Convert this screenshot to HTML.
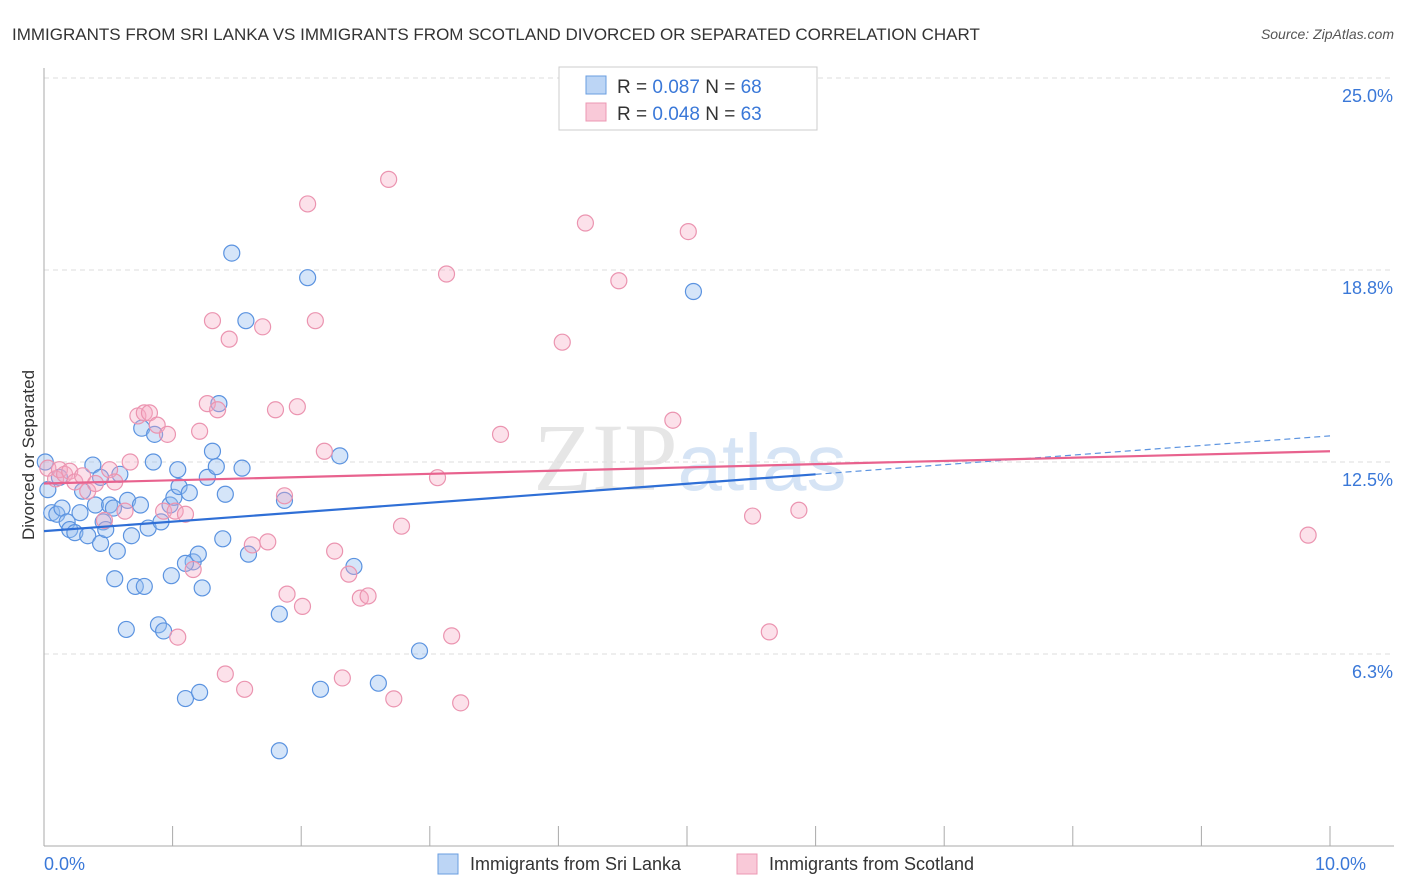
<!DOCTYPE html>
<html><head><meta charset="utf-8"><style>
body{margin:0;background:#fff;font-family:"Liberation Sans",sans-serif}
svg{display:block}
</style></head><body>
<svg id="chart" width="1406" height="892" font-family="Liberation Sans, sans-serif">
<text x="12" y="40" font-size="17" fill="#333">IMMIGRANTS FROM SRI LANKA VS IMMIGRANTS FROM SCOTLAND DIVORCED OR SEPARATED CORRELATION CHART</text>
<text x="1394" y="39" font-size="14" fill="#555" font-style="italic" text-anchor="end">Source: ZipAtlas.com</text>
<text x="690" y="490" font-size="96" fill="#e6e6e6" font-family="Liberation Serif, serif" text-anchor="middle">ZIP<tspan fill="#d6e4f5" font-family="Liberation Sans, sans-serif" font-size="80">atlas</tspan></text>
<g id="grid"></g>
<g id="axes"></g>
<g id="pts"></g>
<g id="lines"></g>
<text x="34" y="455" font-size="17" fill="#333" text-anchor="middle" transform="rotate(-90 34 455)">Divorced or Separated</text>
<g>
<rect x="559" y="67" width="258" height="63" fill="#fff" stroke="#ccc"/>
<rect x="586" y="76" width="20" height="18" fill="#bcd5f5" stroke="#6a9ee0"/>
<rect x="586" y="103" width="20" height="18" fill="#f9c9d8" stroke="#ec98b3"/>
<text x="617" y="93" font-size="19" fill="#333">R = <tspan fill="#3a78d8">0.087</tspan>   N = <tspan fill="#3a78d8">68</tspan></text>
<text x="617" y="120" font-size="19" fill="#333">R = <tspan fill="#3a78d8">0.048</tspan>   N = <tspan fill="#3a78d8">63</tspan></text>
</g>
<g>
<rect x="438" y="854" width="20" height="20" fill="#bcd5f5" stroke="#6a9ee0"/>
<text x="470" y="870" font-size="18" fill="#333">Immigrants from Sri Lanka</text>
<rect x="737" y="854" width="20" height="20" fill="#f9c9d8" stroke="#ec98b3"/>
<text x="769" y="870" font-size="18" fill="#333">Immigrants from Scotland</text>
</g>
</svg>
<script>
const yTicks=[6.25,12.5,18.75,25];
const yTickLabels=["6.3%","12.5%","18.8%","25.0%"];
const xTickLabels=["0.0%","10.0%"];
const blueX=[0.03,0.06,0.1,0.14,0.18,0.2,0.24,0.28,0.3,0.34,0.38,0.4,0.44,0.46,0.48,0.51,0.54,0.57,0.59,0.55,0.64,0.65,0.68,0.71,0.75,0.78,0.76,0.81,0.85,0.86,0.89,0.91,0.93,0.98,0.99,1.01,1.04,1.05,1.1,1.13,1.16,1.2,1.21,1.23,1.27,1.31,1.34,1.36,1.39,1.41,1.46,1.54,1.57,1.59,1.83,1.83,1.87,2.05,2.15,2.3,2.41,2.6,2.92,5.05,0.01,0.12,1.1,0.44];
const blueY=[11.6,10.85,10.8,11.0,10.55,10.3,10.2,10.85,11.55,10.1,12.4,11.1,9.85,10.55,10.3,11.1,11.0,9.6,12.1,8.7,7.05,11.25,10.1,8.45,11.1,8.45,13.6,10.35,12.5,13.4,7.2,10.55,7.0,11.1,8.8,11.35,12.25,11.7,4.8,11.5,9.25,9.5,5.0,8.4,12.0,12.85,12.35,14.4,10.0,11.45,19.3,12.3,17.1,9.5,7.55,3.1,11.25,18.5,5.1,12.7,9.1,5.3,6.35,18.05,12.5,12.0,9.2,12.0];
const pinkX=[0.03,0.09,0.12,0.16,0.2,0.24,0.3,0.34,0.4,0.47,0.51,0.55,0.63,0.67,0.73,0.78,0.82,0.88,0.93,0.96,1.02,1.04,1.1,1.16,1.21,1.27,1.31,1.35,1.41,1.44,1.56,1.62,1.7,1.74,1.8,1.87,1.89,1.97,2.01,2.05,2.11,2.18,2.26,2.32,2.37,2.46,2.52,2.68,2.72,2.78,3.06,3.13,3.17,3.24,3.55,4.03,4.21,4.47,4.89,5.01,5.51,5.64,5.87,9.83];
const pinkY=[12.3,11.95,12.25,12.1,12.2,11.85,12.05,11.55,11.8,10.6,12.25,11.85,10.9,12.5,14.0,14.1,14.1,13.7,10.9,13.4,10.9,6.8,10.8,9.0,13.5,14.4,17.1,14.2,5.6,16.5,5.1,9.8,16.9,9.9,14.2,11.4,8.2,14.3,7.8,20.9,17.1,12.85,9.6,5.47,8.85,8.07,8.14,21.7,4.79,10.41,11.99,18.62,6.84,4.66,13.4,16.4,20.28,18.4,13.86,20.0,10.74,6.97,10.93,10.12];
const blueFit=[10.25,12.1], blueFitX=[0,6.0], blueDashEnd=[10,13.35];
const pinkFit=[11.8,12.85];
const NS="http://www.w3.org/2000/svg";
const X0=44,X1=1330,Y0=846,YT=78;
function sx(v){return X0+(v/10)*(X1-X0);}
function sy(v){return Y0-(v/25)*(Y0-YT);}
function el(t,a,p){const e=document.createElementNS(NS,t);for(const k in a)e.setAttribute(k,a[k]);document.getElementById(p).appendChild(e);return e;}
yTicks.forEach((t,i)=>{
 const g=el('line',{x1:X0,x2:1394,y1:sy(t),y2:sy(t),stroke:'#ddd','stroke-dasharray':'5,4'},'grid');
 
 
 const l=el('text',{x:1393,y:sy(t)+24,'font-size':18,fill:'#3a78d8','text-anchor':'end'},'axes');
 l.textContent=yTickLabels[i];
 
 
});
const ax=el('line',{x1:X0,x2:X0,y1:68,y2:Y0,stroke:'#aaa'},'axes');


const bx=el('line',{x1:X0,x2:1394,y1:Y0,y2:Y0,stroke:'#aaa'},'axes');


for(let i=0;i<=10;i++){
 const t=el('line',{x1:sx(i),x2:sx(i),y1:826,y2:Y0,stroke:'#aaa'},'axes');
 
 
}
[[0,'start'],[10,'end']].forEach((d,i)=>{
 const l=el('text',{x:sx(d[0])+(i?36:0),y:870,'font-size':18,fill:'#3a78d8','text-anchor':d[1]},'axes');
 l.textContent=xTickLabels[i];
 
 
});
blueX.forEach((x,i)=>{
 const c=el('circle',{cx:sx(x),cy:sy(blueY[i]),r:8,fill:'rgba(150,190,240,0.4)',stroke:'#5b93e0','stroke-width':1.2},'pts');
 
 
});
pinkX.forEach((x,i)=>{
 const c=el('circle',{cx:sx(x),cy:sy(pinkY[i]),r:8,fill:'rgba(245,170,195,0.35)',stroke:'#eb94b0','stroke-width':1.2},'pts');
 
 
});
const bl=el('line',{x1:sx(blueFitX[0]),y1:sy(blueFit[0]),x2:sx(blueFitX[1]),y2:sy(blueFit[1]),stroke:'#2f6fd6','stroke-width':2.2},'lines');


const bd=el('line',{x1:sx(blueFitX[1]),y1:sy(blueFit[1]),x2:sx(blueDashEnd[0]),y2:sy(blueDashEnd[1]),stroke:'#5b93e0','stroke-width':1.2,'stroke-dasharray':'6,4'},'lines');


const pl=el('line',{x1:sx(0),y1:sy(pinkFit[0]),x2:sx(10),y2:sy(pinkFit[1]),stroke:'#e8628e','stroke-width':2.2},'lines');


</script>
</body></html>
